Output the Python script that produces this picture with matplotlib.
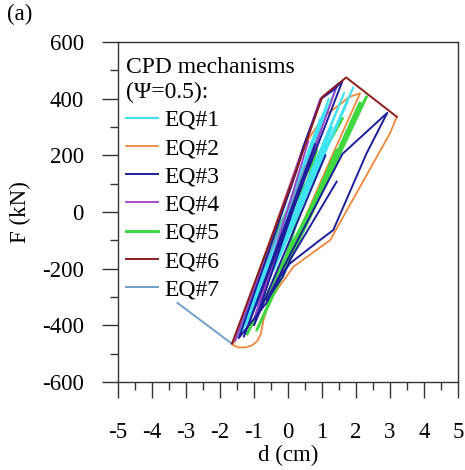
import matplotlib
matplotlib.use("Agg")
import matplotlib.pyplot as plt
from matplotlib.ticker import MultipleLocator

plt.rcParams['font.family'] = ['Liberation Serif', 'DejaVu Serif']
plt.rcParams['font.size'] = 16.5
plt.rcParams['axes.unicode_minus'] = False

# force-displacement paths (d in cm, F in kN)
eq1_d = [-1.5, 1.47, -1.25, 1.92, -0.9, 1.2, -1.35, 0.95, -0.7, 1.65, -1.1, 1.3, -0.4, 1.75]
eq1_f = [-440, 455, -400, 440, -330, 400, -420, 330, -280, 420, -370, 300, -200, 390]

eq2_d = [-0.63, -0.72, -0.8, -0.9, -1.05, -1.25, -1.45, -1.62, 0.45, 1.04, 1.82, 2.12,
         1.33, -0.63, -0.33, 0.16, 1.24, 3.0, 3.2]
eq2_f = [-346, -380, -430, -455, -470, -478, -478, -470, 231, 336, 407, 419,
         208, -330, -275, -193, -99, 278, 336]

eq3_d = [1.43, 0.06, -0.15, -0.63, 1.6, 2.92, 2.31, 1.33, 0.94, 0.06, -0.24, -0.63,
         -1.45, 0.26, 0.45, 0.99, 1.33, 1.6, -1.3, 0.8, -1.0, 1.1]
eq3_f = [107, -169, -228, -311, 205, 350, 207, -64, -99, -181, -228, -320,
         -445, 148, 231, 401, 430, 462, -440, 240, -400, 200]

eq4_d = [-1.55, 0.95, 1.45, -1.0, 0.6]
eq4_f = [-455, 400, 450, -380, 250]

eq5_d = [-1.2, 2.31, -0.92, 2.12, -0.6, 1.44, -0.24, 0.84, -0.73, 1.6]
eq5_f = [-430, 407, -417, 385, -330, 219, -240, 219, -169, 330]

eq6_d = [-1.65, 0.3, 1.0, 1.71, 3.2]
eq6_f = [-465, 165, 405, 475, 336]

eq7_d = [-3.25, -1.65, 1.0, -1.0, 0.5]
eq7_f = [-321, -465, 300, -380, 160]

labels = ["EQ#1", "EQ#2", "EQ#3", "EQ#4", "EQ#5", "EQ#6", "EQ#7"]
colors = ["#3EE2F2", "#F0883C", "#1E1E9A", "#A040C8", "#40D840", "#8C1C1C", "#70A0C8"]
series = [(eq1_d, eq1_f), (eq2_d, eq2_f), (eq3_d, eq3_f), (eq4_d, eq4_f),
          (eq5_d, eq5_f), (eq6_d, eq6_f), (eq7_d, eq7_f)]
widths = [1.5, 1.3, 1.4, 1.3, 2.1, 1.4, 1.4]
zorders = [4, 2, 6, 5, 3, 7, 4]

fig = plt.figure(figsize=(4.65, 4.7), dpi=100)
ax = fig.add_axes([0.2538, 0.1872, 0.7312, 0.7234])

handles = []
for (d, f), lab, c, lw, z in zip(series, labels, colors, widths, zorders):
    h, = ax.plot(d, f, color=c, lw=lw, label=lab, zorder=z)
    handles.append(h)

ax.set_xlim(-5, 5)
ax.set_ylim(-600, 600)
ax.xaxis.set_major_locator(MultipleLocator(1))
ax.xaxis.set_minor_locator(MultipleLocator(0.5))
ax.yaxis.set_major_locator(MultipleLocator(200))
ax.yaxis.set_minor_locator(MultipleLocator(100))
ax.tick_params(which='major', direction='out', length=11.5, width=1, color='#333333')
ax.tick_params(which='minor', direction='out', length=6, width=1, color='#333333')
ax.tick_params(axis='x', which='major', pad=17)
ax.tick_params(axis='y', which='major', pad=13)
for s in ax.spines.values():
    s.set_color('#333333')
    s.set_linewidth(1)

ax.set_xlabel("d (cm)", va='center')
ax.set_ylabel("F (kN)", va='center')
ax.xaxis.set_label_coords(0.5, -0.215)
ax.yaxis.set_label_coords(-0.288, 0.5)

leg = ax.legend(handles=handles, title="CPD mechanisms\n(\u03a8=0.5):", loc='upper left',
                bbox_to_anchor=(0.024, 0.955), frameon=False, borderaxespad=0, borderpad=0,
                handlelength=1.36, handletextpad=0.25, labelspacing=0.285,
                fontsize=17, title_fontsize=17, alignment='left')

fig.text(0.015, 0.97, "(a)", ha='left', va='center', fontsize=16.5)

fig.savefig("out.png", dpi=100)
